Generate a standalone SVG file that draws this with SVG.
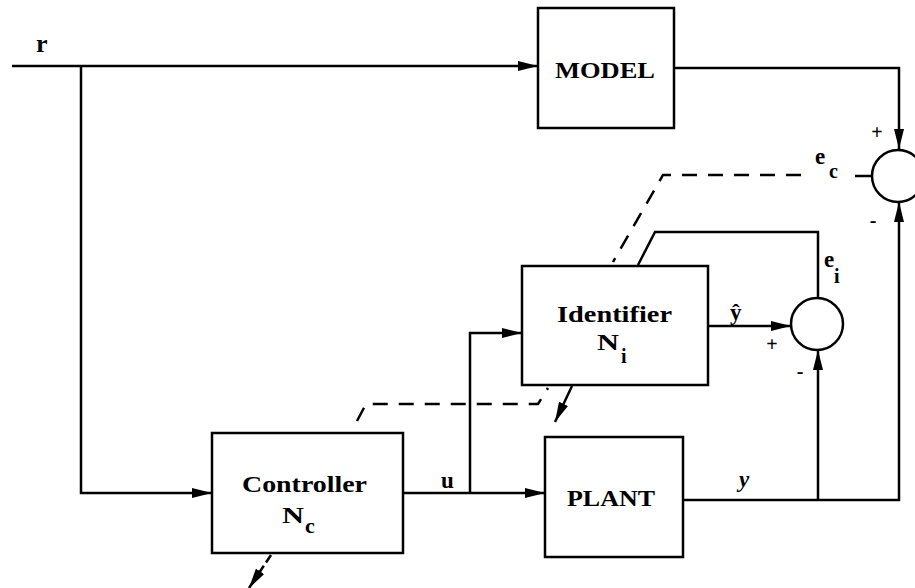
<svg xmlns="http://www.w3.org/2000/svg" width="915" height="588" viewBox="0 0 915 588">
<style>
.box{fill:#fff;stroke:#000;stroke-width:2.5}
.sum{fill:#fff;stroke:#000;stroke-width:2.5}
.ln{fill:none;stroke:#000;stroke-width:2.5}
.dash{fill:none;stroke:#000;stroke-width:2.5;stroke-dasharray:15 11}
.t{font-family:"Liberation Serif","DejaVu Serif",serif;font-weight:bold;fill:#000}
</style>
<defs>
<marker id="arr" viewBox="0 0 20 10" refX="20" refY="5" markerWidth="20" markerHeight="10" orient="auto" markerUnits="userSpaceOnUse">
<path d="M0,0 L20,5 L0,10 z" fill="#000"/>
</marker>
</defs>
<rect width="915" height="588" fill="#fff"/>
<g id="connectors">
<path class="ln" d="M12,66 H538" marker-end="url(#arr)"/>
<path class="ln" d="M674,68 H899 V149" marker-end="url(#arr)"/>
<path class="ln" d="M81,66 V493 H212" marker-end="url(#arr)"/>
<path class="ln" d="M403,493 H545" marker-end="url(#arr)"/>
<path class="ln" d="M470,493 V333 H522" marker-end="url(#arr)"/>
<path class="ln" d="M708,326 H791" marker-end="url(#arr)"/>
<path class="ln" d="M683,500 H899 V202" marker-end="url(#arr)"/>
<path class="ln" d="M818,500 V350" marker-end="url(#arr)"/>
<path class="ln" d="M638,265 L655,232 H818 V298"/>
<path class="ln" d="M855,176 H872"/>
<path class="dash" d="M801,175 H663 L613,262"/>
<path class="dash" d="M357,421 L366,404 H538 L548,388"/>
<path class="ln" d="M572,386 L555,422" marker-end="url(#arr)"/>
<path class="ln" d="M271,555 L249,588" stroke-dasharray="9 4 40" marker-end="url(#arr)"/>
</g>
<g id="model">
<rect class="box" x="538" y="8" width="136" height="120"/>
<text class="t" x="555" y="78" font-size="24" textLength="100" lengthAdjust="spacingAndGlyphs">MODEL</text>
</g>
<g id="identifier">
<rect class="box" x="522" y="266" width="186" height="119"/>
<text class="t" x="557" y="322" font-size="24" textLength="115" lengthAdjust="spacingAndGlyphs">Identifier</text>
<text class="t" x="597" y="350" font-size="24" textLength="22" lengthAdjust="spacingAndGlyphs">N</text>
<text class="t" x="621" y="363" font-size="20">i</text>
</g>
<g id="controller">
<rect class="box" x="212" y="433" width="191" height="120"/>
<text class="t" x="242" y="492" font-size="24" textLength="125" lengthAdjust="spacingAndGlyphs">Controller</text>
<text class="t" x="282" y="523" font-size="24" textLength="22" lengthAdjust="spacingAndGlyphs">N</text>
<text class="t" x="305" y="533" font-size="22">c</text>
</g>
<g id="plant">
<rect class="box" x="545" y="437" width="138" height="120"/>
<text class="t" x="567" y="506" font-size="24" textLength="88" lengthAdjust="spacingAndGlyphs">PLANT</text>
</g>
<g id="sum-ec">
<circle class="sum" cx="898" cy="176" r="26"/>
<text class="t" x="877" y="139" font-size="20" text-anchor="middle">+</text>
<text class="t" x="873" y="227" font-size="20" text-anchor="middle">-</text>
</g>
<g id="sum-ei">
<circle class="sum" cx="817" cy="324" r="26"/>
<text class="t" x="772" y="351" font-size="20" text-anchor="middle">+</text>
<text class="t" x="800" y="378" font-size="20" text-anchor="middle">-</text>
</g>
<g id="labels">
<text class="t" x="36" y="52" font-size="26">r</text>
<text class="t" x="441" y="488" font-size="23">u</text>
<text class="t" x="730" y="320" font-size="23">ŷ</text>
<text class="t" x="739" y="487" font-size="23" font-style="italic">y</text>
<text class="t" x="815" y="164" font-size="23">e</text>
<text class="t" x="829" y="178" font-size="20">c</text>
<text class="t" x="824" y="267" font-size="23">e</text>
<text class="t" x="834" y="283" font-size="20">i</text>
</g>
</svg>
